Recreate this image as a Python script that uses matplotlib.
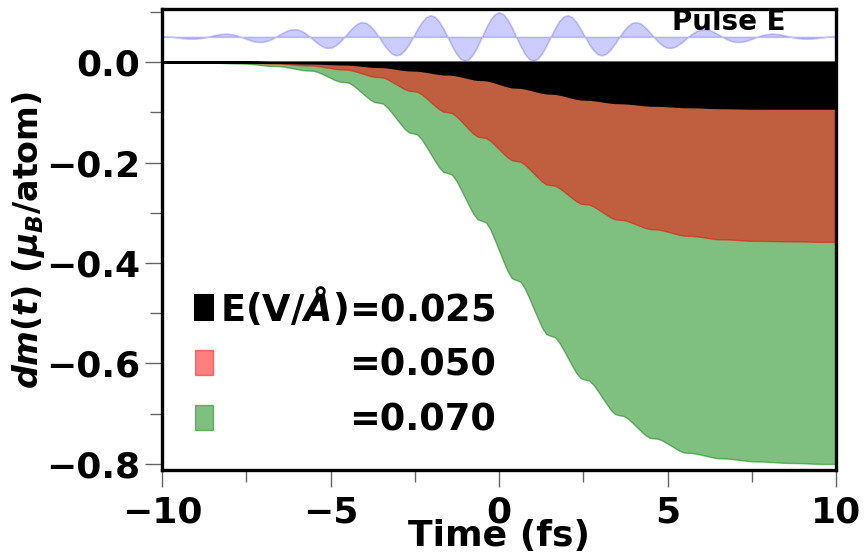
import numpy as np
import matplotlib
matplotlib.use("Agg")
import matplotlib.pyplot as plt
from matplotlib.ticker import MultipleLocator

plt.rcParams['font.family'] = ['DejaVu Sans']
plt.rcParams['font.weight'] = 'bold'
plt.rcParams['axes.labelweight'] = 'bold'
plt.rcParams['mathtext.fontset'] = 'custom'
plt.rcParams['mathtext.rm'] = 'DejaVu Sans:bold'
plt.rcParams['mathtext.bf'] = 'DejaVu Sans:bold'
plt.rcParams['mathtext.it'] = 'DejaVu Sans:italic:bold'

# time grid (fs), one sample every 0.1275 fs
time_fs = np.linspace(-10.2, 10.2, 161)

# laser pulse shown in the top strip (baseline 0.05)
pulse_base = 0.05
pulse_e = [
    0.0519, 0.0520, 0.0516, 0.0510, 0.0500, 0.0488, 0.0478, 0.0468, 0.0464, 0.0463,
    0.0470, 0.0482, 0.0500, 0.0520, 0.0538, 0.0556, 0.0562, 0.0563, 0.0550, 0.0530,
    0.0500, 0.0467, 0.0436, 0.0409, 0.0399, 0.0399, 0.0420, 0.0453, 0.0500, 0.0552,
    0.0598, 0.0638, 0.0653, 0.0651, 0.0619, 0.0569, 0.0500, 0.0425, 0.0358, 0.0303,
    0.0281, 0.0287, 0.0332, 0.0405, 0.0500, 0.0602, 0.0693, 0.0764, 0.0793, 0.0781,
    0.0720, 0.0624, 0.0500, 0.0369, 0.0254, 0.0168, 0.0133, 0.0152, 0.0229, 0.0349,
    0.0500, 0.0657, 0.0794, 0.0892, 0.0931, 0.0905, 0.0814, 0.0673, 0.0500, 0.0323,
    0.0171, 0.0065, 0.0026, 0.0058, 0.0160, 0.0315, 0.0500, 0.0687, 0.0846, 0.0953,
    0.0990,
    0.0953, 0.0846, 0.0687, 0.0500, 0.0315, 0.0160, 0.0058, 0.0026, 0.0065, 0.0171,
    0.0323, 0.0500, 0.0673, 0.0814, 0.0905, 0.0931, 0.0892, 0.0794, 0.0657, 0.0500,
    0.0349, 0.0229, 0.0152, 0.0133, 0.0168, 0.0254, 0.0369, 0.0500, 0.0624, 0.0720,
    0.0781, 0.0793, 0.0764, 0.0693, 0.0602, 0.0500, 0.0405, 0.0332, 0.0287, 0.0281,
    0.0303, 0.0358, 0.0425, 0.0500, 0.0569, 0.0619, 0.0651, 0.0653, 0.0638, 0.0598,
    0.0552, 0.0500, 0.0453, 0.0420, 0.0399, 0.0399, 0.0409, 0.0436, 0.0467, 0.0500,
    0.0530, 0.0550, 0.0563, 0.0562, 0.0556, 0.0538, 0.0520, 0.0500, 0.0482, 0.0470,
    0.0463, 0.0464, 0.0468, 0.0478, 0.0488, 0.0500, 0.0510, 0.0516, 0.0520, 0.0519,
]

# dm(t) for E = 0.025 V/A
dm_025 = [
    0.0, 0.0, 0.0, 0.0, 0.0,
    0.0, 0.0, 0.0, 0.0, 0.0, 0.0, 0.0, 0.0,
    0.0, 0.0, 0.0, 0.0, 0.0, 0.0, 0.0, 0.0,
    0.0, -0.0002, -0.0003, -0.0005, -0.0007, -0.0009, -0.001, -0.001,
    -0.001, -0.0012, -0.0013, -0.0015, -0.0017, -0.0019, -0.002, -0.002,
    -0.0021, -0.0023, -0.0026, -0.003, -0.0034, -0.0037, -0.0039, -0.004,
    -0.0042, -0.0048, -0.0056, -0.0065, -0.0074, -0.0083, -0.0089, -0.009,
    -0.0092, -0.0101, -0.0112, -0.0125, -0.0138, -0.015, -0.0158, -0.016,
    -0.0162, -0.0172, -0.0186, -0.020, -0.0214, -0.0228, -0.0238, -0.024,
    -0.0243, -0.0257, -0.0275, -0.0295, -0.0315, -0.0334, -0.0347, -0.035,
    -0.0355, -0.0373, -0.0398, -0.0425, -0.0452, -0.0478, -0.0496, -0.050,
    -0.0504, -0.0518, -0.0538, -0.056, -0.0582, -0.0602, -0.0616, -0.062,
    -0.0624, -0.0638, -0.0658, -0.068, -0.0702, -0.0722, -0.0736, -0.074,
    -0.0742, -0.0751, -0.0762, -0.0775, -0.0788, -0.080, -0.0808, -0.081,
    -0.0812, -0.0818, -0.0826, -0.0835, -0.0844, -0.0853, -0.0859, -0.086,
    -0.0861, -0.0865, -0.087, -0.0875, -0.088, -0.0886, -0.0889, -0.089,
    -0.0891, -0.0893, -0.0896, -0.090, -0.0904, -0.0907, -0.0909, -0.091,
    -0.091, -0.0912, -0.0913, -0.0915, -0.0917, -0.0919, -0.092, -0.092,
    -0.092, -0.092, -0.092, -0.092, -0.092, -0.092, -0.092, -0.092,
    -0.092, -0.092, -0.092, -0.092, -0.092, -0.092, -0.092, -0.092,
    -0.092, -0.092, -0.092, -0.092,
]

# dm(t) for E = 0.050 V/A
dm_050 = [
    0.0, 0.0, 0.0, 0.0, 0.0,
    0.0, 0.0, 0.0, 0.0, 0.0, 0.0, 0.0, 0.0,
    0.0, -0.0002, -0.0003, -0.0005, -0.0007, -0.0009, -0.001, -0.001,
    -0.0011, -0.0013, -0.0016, -0.002, -0.0024, -0.0027, -0.0029, -0.003,
    -0.0031, -0.0036, -0.0043, -0.005, -0.0057, -0.0064, -0.0069, -0.007,
    -0.0072, -0.0082, -0.0096, -0.011, -0.0124, -0.0138, -0.0148, -0.015,
    -0.0155, -0.0173, -0.0198, -0.0225, -0.0252, -0.0278, -0.0296, -0.030,
    -0.0308, -0.0342, -0.039, -0.044, -0.049, -0.0538, -0.0572, -0.058,
    -0.0593, -0.0643, -0.0714, -0.079, -0.0866, -0.0937, -0.0987, -0.100,
    -0.1015, -0.1075, -0.116, -0.125, -0.134, -0.1425, -0.1485, -0.150,
    -0.1514, -0.157, -0.165, -0.1735, -0.182, -0.190, -0.1956, -0.197,
    -0.1984, -0.2042, -0.2124, -0.221, -0.2296, -0.2378, -0.2436, -0.245,
    -0.2461, -0.2507, -0.2572, -0.264, -0.2708, -0.2773, -0.2819, -0.283,
    -0.2839, -0.2877, -0.2929, -0.2985, -0.3041, -0.3094, -0.3131, -0.314,
    -0.3146, -0.3169, -0.3201, -0.3235, -0.3269, -0.3302, -0.3324, -0.333,
    -0.3334, -0.335, -0.3372, -0.3395, -0.3418, -0.3441, -0.3456, -0.346,
    -0.3462, -0.3471, -0.3482, -0.3495, -0.3508, -0.352, -0.3528, -0.353,
    -0.3531, -0.3535, -0.354, -0.3545, -0.355, -0.3556, -0.3559, -0.356,
    -0.356, -0.3562, -0.3563, -0.3565, -0.3567, -0.3569, -0.357, -0.357,
    -0.357, -0.3572, -0.3573, -0.3575, -0.3577, -0.3579, -0.358, -0.358,
    -0.358, -0.358, -0.358, -0.358,
]

# dm(t) for E = 0.070 V/A
dm_070 = [
    0.0, 0.0, 0.0, 0.0, 0.0,
    0.0, -0.0002, -0.0003, -0.0005, -0.0007, -0.0009, -0.001, -0.001,
    -0.0011, -0.0013, -0.0016, -0.002, -0.0024, -0.0027, -0.0029, -0.003,
    -0.0032, -0.0038, -0.0046, -0.0055, -0.0064, -0.0073, -0.0079, -0.008,
    -0.0083, -0.0094, -0.0109, -0.0125, -0.0141, -0.0157, -0.0167, -0.017,
    -0.0177, -0.0205, -0.0244, -0.0285, -0.0326, -0.0366, -0.0393, -0.040,
    -0.0412, -0.0462, -0.0531, -0.0605, -0.0679, -0.0749, -0.0798, -0.081,
    -0.0828, -0.0902, -0.1005, -0.1115, -0.1225, -0.1329, -0.1402, -0.142,
    -0.1444, -0.1539, -0.1673, -0.1815, -0.1957, -0.2092, -0.2186, -0.221,
    -0.2239, -0.2353, -0.2514, -0.2685, -0.2856, -0.3018, -0.3132, -0.316,
    -0.3195, -0.3337, -0.3538, -0.375, -0.3962, -0.4163, -0.4305, -0.434,
    -0.4373, -0.4507, -0.4695, -0.4895, -0.5095, -0.5284, -0.5417, -0.545,
    -0.5476, -0.5581, -0.5728, -0.5885, -0.6042, -0.619, -0.6294, -0.632,
    -0.6341, -0.6427, -0.6547, -0.6675, -0.6803, -0.6924, -0.7009, -0.703,
    -0.7044, -0.7099, -0.7177, -0.726, -0.7343, -0.7421, -0.7476, -0.749,
    -0.7499, -0.7534, -0.7583, -0.7635, -0.7687, -0.7737, -0.7771, -0.778,
    -0.7783, -0.7797, -0.7815, -0.7835, -0.7855, -0.7874, -0.7887, -0.789,
    -0.7892, -0.7899, -0.7909, -0.792, -0.7931, -0.7941, -0.7948, -0.795,
    -0.7951, -0.7955, -0.796, -0.7965, -0.797, -0.7976, -0.7979, -0.798,
    -0.7981, -0.7983, -0.7986, -0.799, -0.7994, -0.7997, -0.7999, -0.800,
    -0.800, -0.800, -0.800, -0.800,
]

labels = [r"E(V/$Å$)=0.025", "=0.050", "=0.070"]

assert len(pulse_e) == len(dm_025) == len(dm_050) == len(dm_070) == len(time_fs)

fig = plt.figure(figsize=(8.65, 5.59), dpi=100)
ax = fig.add_axes([0.1873, 0.1592, 0.7792, 0.8247])

# filled areas, largest first so smaller ones sit on top
f70 = ax.fill_between(time_fs, 0, dm_070, color='green', alpha=0.5, lw=1)
f50 = ax.fill_between(time_fs, 0, dm_050, color='red', alpha=0.5, lw=1)
f25 = ax.fill_between(time_fs, 0, dm_025, color='black', lw=1.5)

# pulse strip
ax.fill_between(time_fs, pulse_base, pulse_e, color='blue', alpha=0.2, lw=1.2)
ax.text(8.5, 0.064, "Pulse E", ha='right', va='baseline', fontsize=20,
        fontweight='bold', zorder=10)

ax.set_xlim(-10, 10)
ax.set_ylim(-0.812, 0.1055)
ax.xaxis.set_major_locator(MultipleLocator(5))
ax.xaxis.set_minor_locator(MultipleLocator(2.5))
ax.yaxis.set_major_locator(MultipleLocator(0.2))
ax.yaxis.set_minor_locator(MultipleLocator(0.1))
ax.tick_params(which='major', direction='out', length=12, width=1, color='0.4',
               labelsize=26, pad=4)
ax.tick_params(axis='x', which='major', pad=6)
ax.tick_params(which='minor', direction='out', length=8.5, width=1, color='0.4')
for sp in ax.spines.values():
    sp.set_linewidth(2.4)

ax.set_xlabel("Time (fs)", fontsize=26, labelpad=-7)
ax.set_ylabel(r"$dm(t)$ ($\mu_B$/atom)", fontsize=24, labelpad=-1)

leg = ax.legend([f25, f50, f70], labels, loc='upper left',
                bbox_to_anchor=(0.049, 0.40), borderaxespad=0, borderpad=0,
                frameon=False, fontsize=26.5, handlelength=0.48, handleheight=0.68,
                handletextpad=0.2, labelspacing=0.49)

# push the shorter labels right so all labels end at the same x
fig.canvas.draw()
renderer = fig.canvas.get_renderer()
widths = [t.get_window_extent(renderer).width for t in leg.get_texts()]
for t, w in zip(leg.get_texts(), widths):
    t.set_position((max(widths) - w, 0))

fig.savefig("out.png", dpi=100)
